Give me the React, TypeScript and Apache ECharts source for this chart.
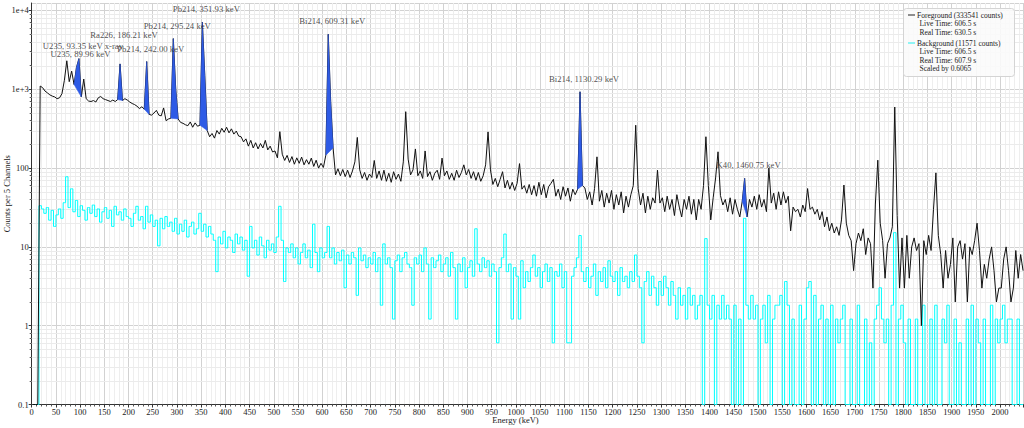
import React, { useEffect, useRef } from 'react';
import * as echarts from 'echarts';

// ---- data (5 keV = 5 channel bins, bin i spans [5i, 5i+5) keV) ----
const BIN_KEV = 5;
const BG_SCALE = 0.6065;
const FLOOR = 0.1;
const X_MAX = 2048;
const Y_MAX = 12450;

const FG_COUNTS: number[] = [
  0, 0, 0, 1100, 1050, 950, 900, 850, 820, 800,
  760, 780, 880, 1300, 2300, 1250, 1700, 1150, 1900, 2450,
  800, 1350, 760, 710, 700, 720, 690, 780, 810, 760,
  740, 720, 700, 730, 700, 740, 2100, 720, 760, 730,
  690, 660, 640, 610, 570, 600, 560, 2250, 480, 470,
  500, 540, 470, 460, 580, 400, 420, 430, 4400, 1000,
  420, 380, 370, 355, 345, 385, 330, 375, 340, 350,
  7100, 1500, 300, 250, 275, 240, 300, 270, 320, 285,
  330, 280, 315, 270, 295, 255, 250, 215, 235, 190,
  225, 180, 210, 175, 205, 180, 225, 170, 190, 160,
  165, 135, 290, 150, 125, 145, 118, 140, 112, 135,
  115, 138, 110, 128, 112, 134, 105, 126, 100, 115,
  102, 146, 5000, 700, 180, 82, 98, 80, 96, 78,
  94, 76, 92, 120, 245, 95, 74, 88, 70, 84,
  76, 125, 74, 92, 70, 94, 68, 86, 66, 90,
  72, 84, 68, 120, 520, 130, 82, 95, 175, 80,
  92, 74, 165, 78, 90, 70, 86, 94, 72, 134,
  80, 92, 72, 86, 70, 94, 76, 88, 110, 82,
  96, 74, 90, 70, 88, 68, 80, 110, 288, 95,
  62, 74, 58, 72, 90, 56, 70, 54, 66, 52,
  64, 114, 54, 60, 48, 62, 46, 60, 44, 66,
  46, 62, 42, 58, 64, 72, 44, 54, 40, 58,
  44, 56, 38, 54, 46, 54, 930, 60, 56, 40,
  50, 34, 55, 139, 38, 52, 32, 48, 36, 52,
  30, 46, 34, 50, 27, 44, 32, 46, 60, 350,
  55, 34, 48, 27, 44, 30, 42, 36, 94, 36,
  42, 28, 44, 30, 40, 25, 46, 32, 24, 40,
  30, 44, 26, 40, 22, 40, 30, 60, 250, 60,
  22, 42, 75, 161, 45, 34, 40, 28, 42, 26,
  40, 30, 24, 38, 74, 24, 40, 32, 44, 30,
  46, 32, 40, 28, 100, 36, 48, 30, 50, 34,
  50, 36, 44, 16, 32, 28, 30, 24, 34, 28,
  55, 30, 32, 26, 30, 22, 28, 18, 24, 16,
  20, 15, 18, 14, 22, 61, 20, 14, 12, 5,
  11, 15, 12, 17, 8, 13, 11, 3, 35, 126,
  20, 12, 4, 11, 13, 18, 595, 25, 3, 13,
  3, 14, 4, 10, 13, 9, 11, 1, 12, 8,
  14, 9, 30, 87, 14, 8, 3, 9, 4, 6,
  13, 2, 10, 12, 7, 11, 2, 10, 8, 12,
  20, 9, 3, 6, 4, 7, 10, 5, 2, 3,
  3, 7, 10, 5, 2, 3, 9, 4, 8, 5,
];

const BG_COUNTS: number[] = [
  0, 0, 0, 55, 50, 44, 52, 36, 48, 30,
  42, 50, 38, 60, 128, 52, 90, 46, 64, 40,
  55, 48, 36, 52, 44, 56, 40, 50, 34, 46,
  52, 38, 48, 30, 54, 42, 46, 36, 50, 40,
  38, 30, 44, 54, 36, 40, 28, 54, 34, 42,
  30, 36, 17, 38, 28, 40, 30, 34, 26, 38,
  24, 32, 26, 36, 22, 30, 34, 24, 28, 44,
  26, 32, 22, 30, 24, 20, 8, 22, 18, 26,
  16, 22, 20, 14, 24, 18, 22, 15, 20, 7,
  30, 16, 20, 13, 22, 17, 12, 20, 15, 18,
  14, 22, 54, 20, 6, 16, 14, 18, 12, 16,
  10, 14, 18, 12, 15, 9, 32, 14, 8, 16,
  12, 14, 30, 12, 16, 10, 14, 11, 15, 5,
  13, 10, 14, 12, 4, 16, 11, 13, 9, 12,
  10, 14, 8, 12, 3, 18, 10, 12, 9, 2,
  11, 13, 8, 12, 14, 10, 9, 3, 12, 10,
  13, 8, 16, 10, 2, 12, 9, 11, 13, 8,
  10, 12, 7, 14, 9, 2, 10, 8, 12, 5,
  9, 11, 7, 28, 10, 8, 12, 9, 11, 7,
  10, 8, 1, 9, 12, 24, 8, 10, 2, 9,
  7, 2, 11, 5, 8, 6, 9, 13, 7, 9,
  5, 8, 10, 6, 9, 1, 8, 7, 10, 5,
  8, 1, 1, 7, 9, 12, 23, 8, 6, 9,
  5, 7, 10, 4, 8, 6, 9, 5, 11, 7,
  6, 8, 4, 9, 6, 7, 5, 8, 6, 13,
  7, 5, 1, 6, 8, 4, 7, 5, 3, 6,
  4, 7, 5, 3, 6, 4, 2, 5, 3, 4,
  2, 5, 3, 4, 2, 3, 4, 0, 21, 3,
  2, 4, 0, 3, 2, 4, 2, 3, 2, 0,
  3, 0, 2, 0, 38, 3, 2, 4, 2, 3,
  0, 2, 3, 1, 4, 0, 2, 3, 3, 4,
  0, 6, 3, 0, 2, 0, 0, 3, 0, 2,
  5, 6, 0, 4, 0, 2, 3, 0, 2, 0,
  3, 0, 2, 1, 2, 3, 0, 0, 2, 0,
  0, 3, 0, 0, 2, 0, 1, 0, 2, 3,
  5, 2, 1, 2, 0, 3, 25, 0, 2, 3,
  1, 0, 2, 0, 0, 2, 0, 0, 3, 0,
  0, 2, 0, 3, 0, 0, 2, 1, 3, 0,
  0, 2, 0, 1, 0, 0, 2, 0, 3, 0,
  2, 1, 0, 2, 0, 0, 3, 0, 2, 1,
  2, 3, 1, 2, 2, 0, 0, 2, 0, 0,
];

// peak annotations: text and the bin centre (keV) they sit over
const PEAK_NAMES = [
  'U235, 93.35 keV x-ray',
  'U235, 89.96 keV',
  'Ra226, 186.21 keV',
  'Pb214, 242.00 keV',
  'Pb214, 295.24 keV',
  'Pb214, 351.93 keV',
  'Bi214, 609.31 keV',
  'Bi214, 1130.29 keV',
  'K40, 1460.75 keV',
];
const PEAK_KEV = [97.5, 92.5, 182.5, 237.5, 292.5, 352.5, 612.5, 1132.5, 1472.5];

// filled peak regions (bin centres, keV)
const FILL_FROM_KEV = [87.5, 177.5, 232.5, 287.5, 347.5, 607.5, 1127.5, 1467.5];
const FILL_TO_KEV = [102.5, 187.5, 242.5, 302.5, 362.5, 622.5, 1137.5, 1477.5];

const LEGEND_FG = ['Foreground (333541 counts)', 'Live Time: 606.5 s', 'Real Time: 630.5 s'];
const LEGEND_BG = ['Background (11571 counts)', 'Live Time: 606.5 s', 'Real Time: 607.9 s', 'Scaled by 0.6065'];

// ---- styles ----
const FONT = '"Liberation Serif", "DejaVu Serif", serif';
const BLUE = '#2e5be6';
const CYAN = '#00ffff';
const LABEL_NUDGE_Y = [0, 0, -16, 0, 0, 0, 0, 0, 0];

const binCenter = (i: number) => BIN_KEV * (i + 0.5);
const binIndex = (kev: number) => Math.round(kev / BIN_KEV - 0.5);

const MINOR_Y: number[] = [];
for (let k = -1; k <= 4; k++) {
  for (let d = 2; d <= 9; d++) {
    const v = d * Math.pow(10, k);
    if (v < Y_MAX) MINOR_Y.push(v);
  }
}

const yFmt = (v: number) => {
  const e = Math.round(Math.log10(v));
  if (e >= 3) return '1e+' + e;
  if (e < 0) return Math.pow(10, e).toFixed(-e);
  return String(Math.pow(10, e));
};

export default function App() {
  const ref = useRef<HTMLDivElement>(null);
  useEffect(() => {
    const chart = echarts.init(ref.current as HTMLDivElement, null, { renderer: 'svg' });

    const fgData = FG_COUNTS.map((c, i) => [binCenter(i), Math.max(c, FLOOR)]);
    const bgData = BG_COUNTS.map((c, i) => [binCenter(i), Math.max(c * BG_SCALE, FLOOR)]);

    const labelData = PEAK_NAMES.map((n, k) => {
      const i = binIndex(PEAK_KEV[k]);
      return {
        name: n,
        value: [binCenter(i), FG_COUNTS[i]],
        label: { offset: [4, LABEL_NUDGE_Y[k]] },
      };
    });

    const textStyle = { fontFamily: FONT, fontSize: 8.5, color: '#222' };

    const legendFont = '7.5px "Liberation Serif", "DejaVu Serif", serif';
    const legendText = (t: string, x: number, y: number) => ({
      type: 'text',
      z: 101,
      silent: true,
      style: { text: t, x, y, font: legendFont, fill: '#222', textAlign: 'left', textVerticalAlign: 'middle' },
    });
    const fgRows = LEGEND_FG.map((t, k) => legendText(t, k === 0 ? 917 : 919.5, 15 + k * 8.6));
    const bgRows = LEGEND_BG.map((t, k) => legendText(t, k === 0 ? 917 : 919.5, 43 + k * 8.6));

    const option: any = {
      animation: false,
      backgroundColor: '#fff',
      grid: { left: 31.7, right: 0.7, top: 3, bottom: 23.5, containLabel: false, outerBoundsMode: 'none' },
      xAxis: {
        type: 'value',
        min: 0,
        max: X_MAX,
        interval: 50,
        name: 'Energy (keV)',
        nameLocation: 'middle',
        nameGap: 11,
        nameMoveOverlap: false,
        nameTextStyle: { ...textStyle, padding: [0, 24, 0, 0] },
        axisLine: { show: true, onZero: false, lineStyle: { color: '#333', width: 1 } },
        axisTick: { show: true, length: 3, lineStyle: { color: '#333' } },
        minorTick: { show: true, splitNumber: 5, length: 2, lineStyle: { color: '#555' } },
        axisLabel: { ...textStyle, margin: 3, showMaxLabel: false, hideOverlap: false, formatter: (v: number) => String(v) },
        splitLine: { show: true, lineStyle: { color: '#d2d2d2', width: 1 } },
        minorSplitLine: { show: true, lineStyle: { color: '#eeeeee', width: 1 } },
      },
      yAxis: [
        {
          type: 'log',
          logBase: 10,
          min: FLOOR,
          max: Y_MAX,
          name: 'Counts per 5 Channels',
          nameLocation: 'middle',
          nameGap: 20,
          nameMoveOverlap: false,
          nameTextStyle: { ...textStyle, padding: [0, 0, 0, 20] },
          axisLine: { show: true, lineStyle: { color: '#333', width: 1 } },
          axisTick: { show: true, length: 3, lineStyle: { color: '#333' } },
          axisLabel: { ...textStyle, margin: 3, showMaxLabel: false, formatter: yFmt },
          splitLine: { show: true, lineStyle: { color: '#d2d2d2', width: 1 } },
        },
        {
          type: 'log',
          logBase: 10,
          min: FLOOR,
          max: Y_MAX,
          position: 'left',
          axisLine: { show: false },
          axisLabel: { show: false },
          splitLine: { show: false },
          axisTick: { show: true, length: 2, customValues: MINOR_Y, lineStyle: { color: '#555' } },
        },
      ],
      series: [
        {
          type: 'custom',
          z: 1,
          silent: true,
          data: MINOR_Y.map((v) => [0, v]),
          renderItem: (params: any, api: any) => {
            const p = api.coord([0, api.value(1)]);
            const cs = params.coordSys;
            const y = Math.round(p[1]) + 0.5;
            return {
              type: 'line',
              shape: { x1: cs.x, y1: y, x2: cs.x + cs.width, y2: y },
              style: { stroke: '#ebebeb', lineWidth: 1 },
            };
          },
        },
        {
          name: 'Background',
          type: 'line',
          z: 2,
          step: 'middle',
          showSymbol: false,
          silent: true,
          data: bgData,
          lineStyle: { color: CYAN, width: 1 },
        },
        {
          name: 'Foreground',
          type: 'line',
          z: 3,
          showSymbol: false,
          silent: true,
          data: fgData,
          lineStyle: { color: '#111', width: 1 },
        },
        {
          type: 'custom',
          z: 4,
          silent: true,
          data: FILL_FROM_KEV.map((s, k) => [s, FILL_TO_KEV[k]]),
          renderItem: (params: any, api: any) => {
            const i0 = binIndex(api.value(0));
            const i1 = binIndex(api.value(1));
            const pts: number[][] = [];
            for (let i = i0; i <= i1; i++) {
              pts.push(api.coord([binCenter(i), Math.max(FG_COUNTS[i], FLOOR)]));
            }
            return {
              type: 'polygon',
              shape: { points: pts },
              style: { fill: BLUE, stroke: BLUE, lineWidth: 0.5 },
            };
          },
        },
        {
          type: 'scatter',
          z: 5,
          silent: true,
          symbolSize: 0,
          data: labelData,
          label: {
            show: true,
            position: 'top',
            distance: 8.5,
            formatter: '{b}',
            fontFamily: FONT,
            fontSize: 8.7,
            color: '#222',
          },
        },
      ],
      graphic: [
        {
          type: 'rect',
          z: 100,
          silent: true,
          shape: { x: 903.5, y: 8.5, width: 111, height: 68, r: 3 },
          style: { fill: 'rgba(250,250,250,0.88)', stroke: '#d4d4d4', lineWidth: 1 },
        },
        {
          type: 'line',
          z: 101,
          silent: true,
          shape: { x1: 908, y1: 15, x2: 915, y2: 15 },
          style: { stroke: '#222', lineWidth: 1 },
        },
        {
          type: 'line',
          z: 101,
          silent: true,
          shape: { x1: 908, y1: 43, x2: 915, y2: 43 },
          style: { stroke: '#8ff5f5', lineWidth: 2 },
        },
        ...fgRows,
        ...bgRows,
      ],
    };

    chart.setOption(option);
    return () => chart.dispose();
  }, []);

  return (
    <div
      ref={ref}
      style={{ position: 'fixed', left: 0, top: 0, width: 1024, height: 428, background: '#fff' }}
    />
  );
}
